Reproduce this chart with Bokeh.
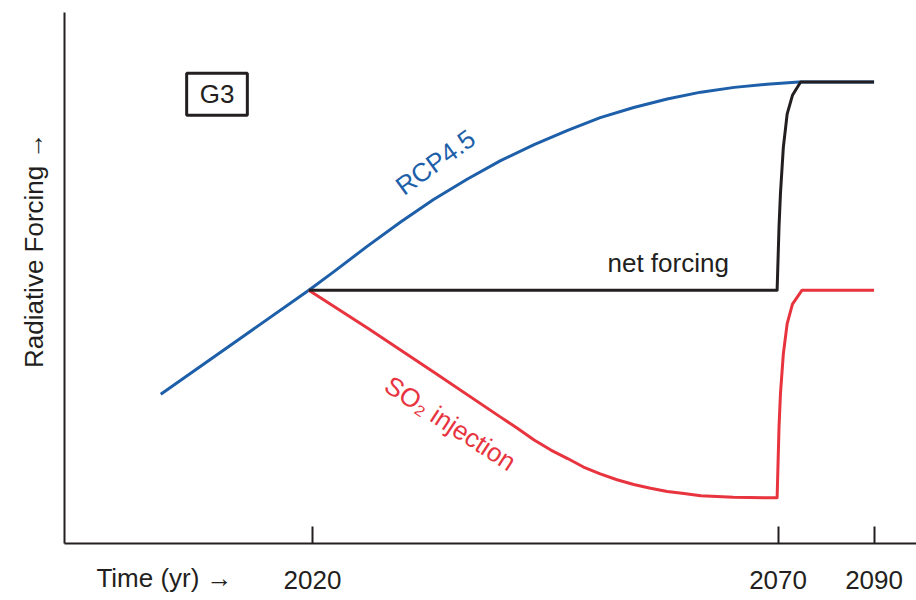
import math
from bokeh.plotting import figure
from bokeh.models import Range1d, FixedTicker, Label, LinearAxis, Title
from bokeh.embed import file_html
from bokeh.resources import INLINE

# ---- data (read from the schematic; forcing in arbitrary units, 0 = axis, 10 = top) ----
tick_years = [2020, 2070, 2090]
x_title = "Time (yr) \u2192"
x_title_year = 2004.1
y_title = "Radiative Forcing \u2192"

rcp_years = [2003.7, 2019.6, 2022.3, 2025.9, 2029.5, 2033.0, 2036.6, 2040.2, 2043.8,
             2047.4, 2050.9, 2054.5, 2058.1, 2061.7, 2065.3, 2068.8, 2074.3, 2090]
rcp_vals = [2.81, 4.77, 5.12, 5.60, 6.06, 6.48, 6.86, 7.21, 7.51,
            7.78, 8.02, 8.21, 8.37, 8.50, 8.59, 8.65, 8.69, 8.69]

net_years = [2019.6, 2069.9, 2070.2, 2070.5, 2071.1, 2071.9, 2073.0, 2074.7, 2090]
net_vals = [4.77, 4.77, 5.96, 6.59, 7.46, 8.09, 8.44, 8.69, 8.69]

so2_years = [2019.6, 2025.9, 2033.0, 2040.2, 2042.0, 2043.8, 2045.6, 2047.4, 2049.1,
             2050.9, 2052.7, 2054.5, 2056.3, 2058.1, 2059.9, 2061.7, 2065.2, 2069.9,
             2070.2, 2070.5, 2071.1, 2071.9, 2073.0, 2075.0, 2090]
so2_vals = [4.77, 4.06, 3.23, 2.38, 2.17, 1.95, 1.76, 1.60, 1.44,
            1.31, 1.20, 1.11, 1.04, 0.98, 0.94, 0.90, 0.87, 0.86,
            2.19, 2.82, 3.57, 4.14, 4.51, 4.77, 4.77]

# the time axis of the schematic is compressed after 2070
COMPRESS = 0.5156


def to_pos(year):
    return year if year <= 2070 else 2070 + (year - 2070) * COMPRESS


BLUE = "#1d5fa9"
RED = "#e8343f"
INK = "#231f20"
FONT = "Liberation Sans"

p = figure(width=916, height=600, output_backend="svg", toolbar_location=None,
           x_range=Range1d(1993.36, 2084.87), y_range=Range1d(0, 10),
           x_axis_location=None, y_axis_location=None,
           min_border_left=64, min_border_right=0, min_border_top=12, min_border_bottom=57)
p.grid.visible = False
p.outline_line_color = None
p.background_fill_color = "white"
p.border_fill_color = "white"

# x axis: line, inward ticks and year labels
xa = LinearAxis(ticker=FixedTicker(ticks=[to_pos(y) for y in tick_years]))
xa.major_label_overrides = {to_pos(y): str(y) for y in tick_years}
xa.major_tick_in = 17
xa.major_tick_out = 0
xa.major_tick_line_width = 2
xa.major_tick_line_color = INK
xa.minor_tick_line_color = None
xa.axis_line_width = 2
xa.axis_line_color = INK
xa.major_label_standoff = 27
xa.major_label_text_font = FONT
xa.major_label_text_font_size = "26px"
xa.major_label_text_color = INK
p.add_layout(xa, "below")

# "Time (yr) →" sits on the same row as the year labels
xl = LinearAxis(ticker=FixedTicker(ticks=[to_pos(x_title_year)]))
xl.major_label_overrides = {to_pos(x_title_year): x_title}
xl.axis_line_color = None
xl.major_tick_line_color = None
xl.minor_tick_line_color = None
xl.major_tick_in = 0
xl.major_tick_out = 0
xl.major_label_standoff = -29
xl.major_label_text_font = FONT
xl.major_label_text_font_size = "26px"
xl.major_label_text_color = INK
p.add_layout(xl, "below")

# y axis (no ticks)
ya = LinearAxis(ticker=FixedTicker(ticks=[]))
ya.major_tick_line_color = None
ya.minor_tick_line_color = None
ya.axis_line_width = 2
ya.axis_line_color = INK
p.add_layout(ya, "left")
p.add_layout(Title(text=y_title, align="right", offset=120, vertical_align="bottom",
                   text_font=FONT, text_font_size="26px", text_font_style="normal",
                   text_color=INK, standoff=32), "left")

# curves
p.line([to_pos(y) for y in rcp_years], rcp_vals, line_color=BLUE, line_width=3, line_join="round")
p.line([to_pos(y) for y in so2_years], so2_vals, line_color=RED, line_width=3, line_join="round")
p.line([to_pos(y) for y in net_years], net_vals, line_color=INK, line_width=3, line_join="round")

# annotations
common = dict(text_font=FONT, text_font_size="26px", text_align="center", text_baseline="middle")
p.add_layout(Label(x=2033.2, y=7.18, text="RCP4.5", angle=math.radians(36), text_color=BLUE, **common))
p.add_layout(Label(x=2058.2, y=5.29, text="net forcing", text_color=INK, **common))
p.add_layout(Label(x=2034.8, y=2.26, text="SO\u2082 injection", angle=math.radians(-33), text_color=RED, **common))
p.add_layout(Label(x=2009.74, y=8.46, text="G3", text_color=INK,
                   border_line_color=INK, border_line_width=3, background_fill_color="white",
                   padding=dict(left=13, right=13, top=6, bottom=6), **common))

open("out.html", "w").write(file_html(p, INLINE))
